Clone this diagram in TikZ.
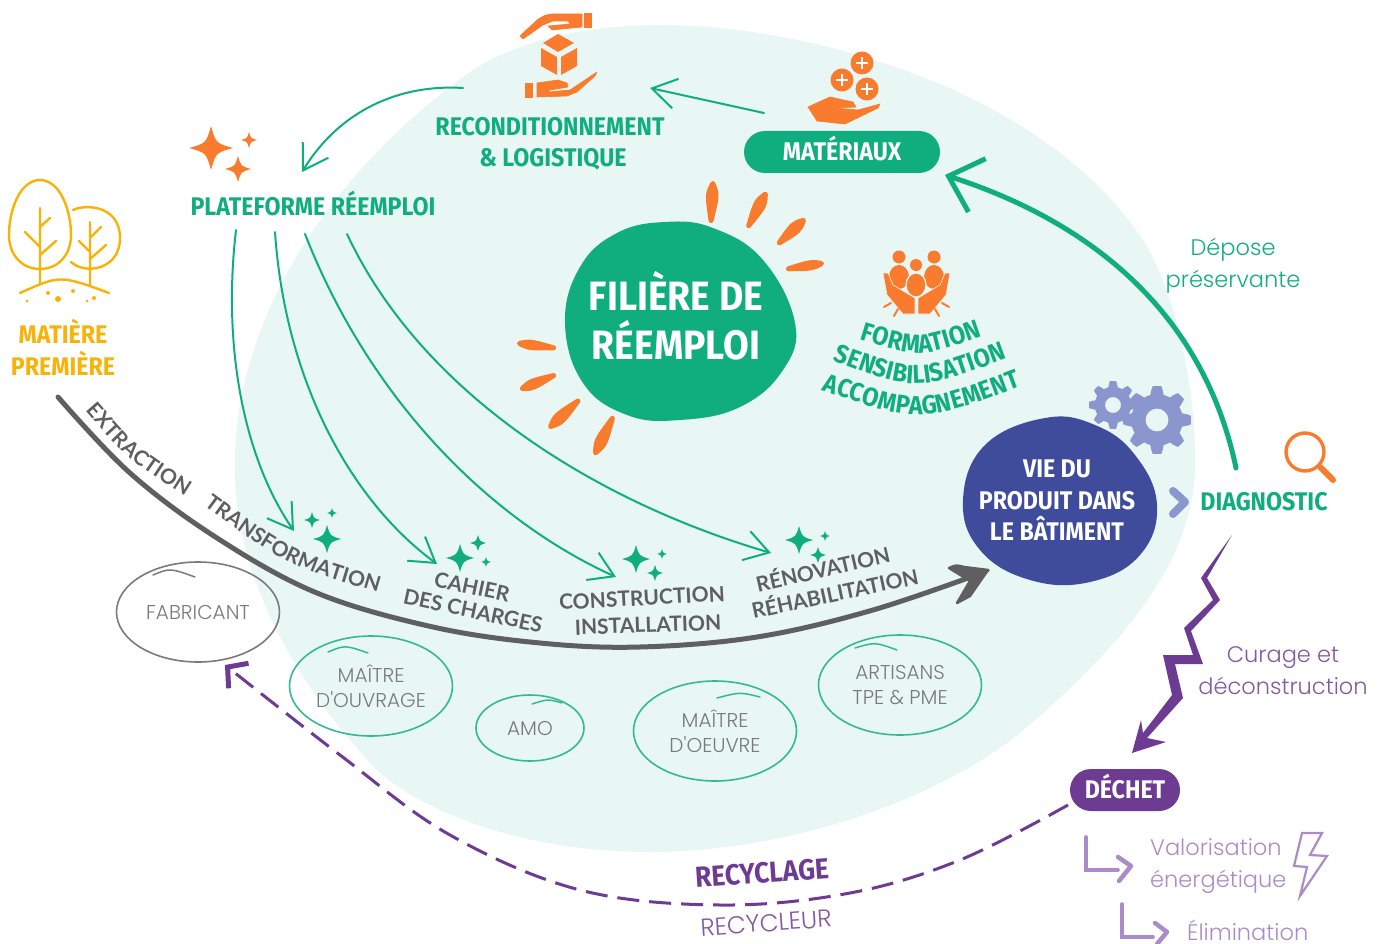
\documentclass[tikz,border=0pt]{standalone}
\usepackage{fontspec}
\setmainfont{Lato}
\newfontfamily\disp[FakeStretch=0.91]{Fira Sans}
\newfontfamily\thinf{Poppins Light}
\newfontfamily\medf{Lato}
\usetikzlibrary{arrows.meta,calc,shapes.geometric,decorations.text}
\definecolor{pale}{HTML}{E8F7F3}
\definecolor{grn}{HTML}{10AE7E}
\definecolor{ora}{HTML}{F97B2D}
\definecolor{yel}{HTML}{F9B208}
\definecolor{pur}{HTML}{6E3B93}
\definecolor{lpur}{HTML}{A98CC8}
\definecolor{blu}{HTML}{3F4C9C}
\definecolor{lblu}{HTML}{8C96CE}
\definecolor{gry}{HTML}{5F5F5F}
\definecolor{lgry}{HTML}{7A7A7A}
\tikzset{
 ttl/.style={font=\disp\bfseries\fontsize{25.5}{28}\selectfont,inner sep=0pt,text height=17.5pt,text depth=0pt},
 bigttl/.style={font=\disp\bfseries\fontsize{41}{46}\selectfont,inner sep=0pt,text height=28.2pt,text depth=0pt},
 thinlbl/.style={font=\thinf\fontsize{22.5}{32}\selectfont,inner sep=0pt,align=center},
 role/.style={font=\thinf\fontsize{20}{25}\selectfont,inner sep=0pt,align=center,text=lgry},
 stage/.style={font=\medf\bfseries\fontsize{21}{24}\selectfont,inner sep=0pt,text=gry,text height=15pt,text depth=0pt},
 bubble/.style={draw,ellipse,line width=1.6pt,inner sep=0pt},
 thinarrow/.style={draw=grn,line width=2pt,line cap=round,-{Straight Barb[length=24pt,width=30pt,line width=2pt]}},
 tail/.style={line width=1.5pt,line cap=round},
 orangeicon/.style={fill=ora,draw=ora,line width=.6pt,line join=round},
}
\newcommand\sparkle[4]{\fill[#1,shift={(#2,#3)},scale=#4] (0,-1) .. controls (.22,-.22) .. (1,0) .. controls (.22,.22) .. (0,1) .. controls (-.22,.22) .. (-1,0) .. controls (-.22,-.22) .. (0,-1) -- cycle;}
\newcommand\ray[5]{\coordinate (wa) at (#1,#2);\coordinate (na) at (#3,#4);
 \coordinate (w) at ($(wa)!3.5pt!(na)$);\coordinate (n) at ($(na)!1.5pt!(wa)$);
 \coordinate (m) at ($(n)!.7!(w)$);
 \coordinate (p) at ($(m)!#5 pt!90:(w)$);\coordinate (q) at ($(m)!#5 pt!-90:(w)$);
 \fill[ora,draw=ora,line width=5pt,line join=round] (n) .. controls (p) .. (w) .. controls (q) .. (n) -- cycle;}
\newcommand\gearshape[5]{\fill[lblu,even odd rule,shift={(#1,#2)}] plot[samples=#5*12+1,domain=0:360,variable=\t] (\t:{#4*(.76+.24*min(1,max(0,.5+1.6*cos(#5*\t))))}) -- cycle (0,0) circle (#3);}
\newcommand\plusc[3]{\fill[ora] (#1,#2) circle (#3);\fill[white] ($(#1,#2)+(-6,-1.3)$) rectangle ($(#1,#2)+(6,1.3)$);\fill[white] ($(#1,#2)+(-1.3,-6)$) rectangle ($(#1,#2)+(1.3,6)$);}
\begin{document}
\begin{tikzpicture}[x=1pt,y=-1pt]
\useasboundingbox (0,0) rectangle (1384,944);
% pale background
\fill[pale] (463,77) .. controls (520,35) and (600,25) .. (663,25) .. controls (800,25) and (1040,85) .. (1143,240) .. controls (1180,300) and (1197,400) .. (1195,473) .. controls (1190,560) and (1130,640) .. (1020,733) .. controls (930,805) and (780,852) .. (650,852) .. controls (520,852) and (420,810) .. (377,770) .. controls (300,690) and (235,580) .. (235,470) .. controls (232,340) and (310,190) .. (463,77) -- cycle;
% centre blob
\fill[grn] plot[smooth cycle,tension=.7] coordinates {(665,222)(713,228)(763,260)(795,323)(783,370)(740,407)(680,420)(627,415)(583,383)(565,323)(580,267)(617,233)};
% gears
\gearshape{1113}{405}{8}{24}{8}
\gearshape{1157}{420}{11.5}{34}{8}
\fill[blu] plot[smooth cycle,tension=.7] coordinates {(1045,418)(1095,425)(1135,455)(1157,505)(1140,555)(1090,582)(1030,580)(980,550)(963,500)(985,445)};
\ray{713}{180}{711}{222}{5}
\ray{767}{191}{748}{227}{5}
\ray{806}{218}{778}{244}{5}
\ray{825}{263}{787}{269}{3.5}
\ray{516}{343}{555}{348}{3.5}
\ray{519}{390}{555}{375}{4}
\ray{548}{429}{579}{400}{5}
\ray{594}{456}{613}{417}{5}
% texts with nodes
\node[bigttl,text=white] (fil1) at (676,296) {FILIÈRE DE};
\node[bigttl,text=white] (fil2) at (676,345) {RÉEMPLOI};
\node[ttl,text=grn] (reco) at (550,127) {RECONDITIONNEMENT};
\node[ttl,text=grn] (log) at (553,158) {\& LOGISTIQUE};
\node[ttl,text=grn] (plat) at (313,207) {PLATEFORME RÉEMPLOI};
\node[ttl,text=yel] (mp1) at (63,335) {MATIÈRE};
\node[ttl,text=yel] (mp2) at (63,367) {PREMIÈRE};
\node[ttl,fill=grn,rounded corners=21pt,minimum width=196pt,minimum height=42pt,text=white] (mat) at (842,152) {MATÉRIAUX};
\node[ttl,fill=pur,rounded corners=21pt,minimum width=110pt,minimum height=42pt,text=white] (dech) at (1125,790) {DÉCHET};
\node[ttl,text=white] (vie1) at (1057,469) {VIE DU};
\node[ttl,text=white] (vie) at (1057,501) {PRODUIT DANS};
\node[ttl,text=white] (vie3) at (1057,532) {LE BÂTIMENT};
\node[ttl,text=grn] (diag) at (1264,502) {DIAGNOSTIC};
\node[thinlbl,text=grn] (dep) at (1233,266) {Dépose\\préservante};
\node[thinlbl,text=pur!85] (cur) at (1283,671) {Curage et\\déconstruction};
\node[thinlbl,text=lpur,align=left,anchor=west] (val) at (1150,866) {Valorisation\\énergétique};
\node[thinlbl,text=lpur,anchor=west,font=\thinf\fontsize{22.5}{30}\selectfont] (eli) at (1187,930) {Élimination};
\node[ttl,text=pur,rotate=4,font=\disp\bfseries\fontsize{29}{30}\selectfont,text height=20pt] (recy) at (762,873) {RECYCLAGE};
\node[thinlbl,text=pur!85,rotate=4,font=\thinf\fontsize{24.5}{27}\selectfont] (recu) at (766,923) {RECYCLEUR};
% stage labels
\node[stage,rotate=-12] (cah1) at (472,587) {CAHIER};
\node[stage,rotate=-12] (cah2) at (473,611) {DES CHARGES};
\node[stage,rotate=3] (con1) at (642,598) {CONSTRUCTION};
\node[stage,rotate=2] (con2) at (648,625) {INSTALLATION};
\node[stage,rotate=13] (ren1) at (823,570) {RÉNOVATION};
\node[stage,rotate=12] (ren2) at (835,594) {RÉHABILITATION};
\path[decorate,decoration={text along path,text align=center,text={|\medf\bfseries\fontsize{21}{24}\selectfont\color{gry}|EXTRACTION}}] (83,408) .. controls (128,460) .. (188,498);
\path[decorate,decoration={text along path,text align=center,text={|\medf\bfseries\fontsize{21}{24}\selectfont\color{gry}|TRANSFORMATION}}] (202,504) .. controls (285,565) .. (380,593);
\path[decorate,decoration={text along path,text align=center,text={|\disp\bfseries\fontsize{26}{28}\selectfont\color{grn}|FORMATION}}] (858,339) .. controls (920,358) .. (984,336);
\path[decorate,decoration={text along path,text align=center,text={|\disp\bfseries\fontsize{26}{28}\selectfont\color{grn}|SENSIBILISATION}}] (829,359) .. controls (915,392) .. (1011,357);
\path[decorate,decoration={text along path,text align=center,text={|\disp\bfseries\fontsize{26}{28}\selectfont\color{grn}|ACCOMPAGNEMENT}}] (816,388) .. controls (920,424) .. (1027,384);
% role bubbles
\node[bubble,draw=lgry,minimum width=163pt,minimum height=100pt,role] (fab) at (198,612) {FABRICANT};
\node[bubble,draw=grn!85,minimum width=163pt,minimum height=100pt,role] (mo) at (371,686) {MAÎTRE\\D'OUVRAGE};
\node[bubble,draw=grn!85,minimum width=108pt,minimum height=66pt,role] (amo) at (530,728) {AMO};
\node[bubble,draw=grn!85,minimum width=163pt,minimum height=100pt,role] (moe) at (715,731) {MAÎTRE\\D'OEUVRE};
\node[bubble,draw=grn!85,minimum width=163pt,minimum height=100pt,role] (art) at (900,685) {ARTISANS\\TPE \& PME};
\draw[tail,lgry] (153,575) .. controls (170,568) .. (195,577);
\draw[tail,grn!85] (328,652) .. controls (345,645) .. (368,653);
\draw[tail,grn!85] (532,704) .. controls (548,699) .. (562,703);
\draw[tail,grn!85] (717,698) .. controls (740,692) .. (760,697);
\draw[tail,grn!85] (855,648) .. controls (875,642) .. (897,650);
% sparkles
\sparkle{ora}{211}{148}{22}\sparkle{ora}{249}{140}{8}\sparkle{ora}{238}{169}{13}
\sparkle{grn}{327}{539}{14}\sparkle{grn}{312}{520}{8}\sparkle{grn}{332}{513}{5}
\sparkle{grn}{460}{558}{14}\sparkle{grn}{478}{543}{8}\sparkle{grn}{486}{562}{5}
\sparkle{grn}{636}{559}{14}\sparkle{grn}{655}{573}{8}\sparkle{grn}{662}{554}{5}
\sparkle{grn}{799}{540}{14}\sparkle{grn}{818}{555}{8}\sparkle{grn}{825}{536}{5}
% connectors
\coordinate (transfo) at (294,531);
\draw[thinarrow] ([shift={(-78,-39)}]mat.center) -- ([shift={(100,-39)}]reco.center);
\draw[thinarrow] ([shift={(-87,-39)}]reco.center) .. controls (400,84) and (340,110) .. ([shift={(-11,-35)}]plat.center);
\draw[thinarrow] ([shift={(-77,23)}]plat.center) .. controls (222,350) and (245,460) .. (transfo);
\draw[thinarrow] ([shift={(-38,25)}]plat.center) .. controls (285,380) and (350,500) .. ([shift={(-35,-23)}]cah1.center);
\draw[thinarrow] ([shift={(-8,27)}]plat.center) .. controls (370,400) and (490,520) .. ([shift={(-26,-21)}]con1.center);
\draw[thinarrow] ([shift={(34,27)}]plat.center) .. controls (420,390) and (590,500) .. ([shift={(-52,-17)}]ren1.center);
\draw[grn,line width=5pt,line cap=round,-{Straight Barb[length=30pt,width=56pt,line width=5pt]}] ([shift={(-28,-34)}]diag.center) .. controls (1205,320) and (1100,225) .. ([shift={(103,23)}]mat.center);
\draw[gry,line width=5pt,line cap=round,-{Stealth[length=12pt,width=12pt]}] plot[smooth,tension=.6] coordinates {([shift={(-5,30)}]mp2.center) (130,473) (217,538) (317,593) (433,627) (540,643) (640,647) (757,637) (873,610) ([shift={(-67,69)}]vie.center)};
\fill[gry,draw=gry,line width=2.5pt,line join=round] (988,570) -- (964,567) .. controls (956,565) .. (949,568) -- (962,576) -- (970,581) -- (957,603) -- (970,596) -- cycle;
\draw[pur,line width=3pt,dash pattern=on 22pt off 10pt,-{Straight Barb[length=14pt,width=32pt,line width=5pt]}] plot[smooth,tension=.6] coordinates {([shift={(-57,15)}]dech.center) (960,860) (850,893) (720,905) (580,890) (450,835) (340,755) ([shift={(27,53)}]fab.center)};
% zigzag
\fill[pur,line join=miter] (1232,535) -- (1207,578) -- (1220,600) -- (1191,631) -- (1203,664) -- (1175,664) -- (1183,698) -- (1147,738) -- (1166,742) -- (1132,753) -- (1141,720) -- (1143,733) -- (1172,695) -- (1163,655) -- (1193,655) -- (1184,628) -- (1213,600) -- (1201,578) -- cycle;
\draw[lblu,line width=8pt,line cap=round,line join=round] (1173,491) -- (1185,502) -- (1173,514);
% icons
\draw[yel,line width=2.4pt] (40,180) .. controls (20,180) and (9,210) .. (9,235) .. controls (9,255) and (22,269) .. (40,269) .. controls (58,269) and (71,255) .. (71,235) .. controls (71,210) and (60,180) .. (40,180) -- cycle;
\draw[yel,line width=2.4pt,line cap=round] (40,208)--(40,283) (25,232)--(40,247) (50,218)--(40,227) (56,241)--(40,255);
\draw[yel,line width=2.4pt,line cap=round] (73,210) .. controls (85,204) and (120,205) .. (120,238) .. controls (120,270) and (85,275) .. (71,262);
\draw[yel,line width=2.4pt,line cap=round] (90,222)--(90,285) (79,241)--(90,252) (101,227)--(90,238) (106,245)--(90,259);
\draw[yel,line width=2.4pt,line cap=round] (20,293) .. controls (60,275) .. (109,293);
\fill[yel] (48,293) circle (2) (73,291) circle (2) (58,299) circle (3) (27,301) circle (1.5) (87,301) circle (1.5) (94,298) circle (2);
% box hand
\fill[ora] (584,13) rectangle (592,28);
\path[orangeicon] (520,36) -- (537,20) .. controls (545,15) .. (552,14) -- (582,14) -- (582,27) -- (552,30) -- (548,26) -- (570,24) -- (568,21) -- (553,21) -- (543,25) -- (523,39) -- cycle;
\fill[ora] (558,34)--(574,43)--(558,52)--(543,43)--cycle (541,48)--(557,57)--(557,75)--(541,66)--cycle (561,57)--(577,48)--(577,66)--(561,75)--cycle;
\fill[ora] (525,83) rectangle (533,98);
\path[orangeicon] (537,83) -- (558,80) -- (567,83) -- (568,87) -- (550,90) -- (548,92) -- (570,90) -- (597,72) -- (595,76) -- (577,92) -- (567,96) -- (537,97) -- cycle;
% materials hand
\plusc{862}{63}{11.5}\plusc{842}{80}{11.5}\plusc{867}{89}{11.5}
\path[orangeicon] (808,107) -- (830,97) -- (853,102) -- (856,107) -- (835,108) -- (858,110) -- (880,104) -- (878,108) -- (845,124) -- (817,121) -- cycle;
% family icon
\fill[ora] (899,257) circle (6.5) (934,257) circle (6.5) (916,265) circle (6);
\fill[ora] (899,277) ellipse (10 and 12) (934,277) ellipse (10 and 12);
\draw[pale,fill=ora,line width=1.2pt] (916,285) ellipse (10 and 12);
\path[orangeicon,draw=pale] (883,273) -- (888,273) -- (893,285) -- (915,298) -- (915,314) -- (903,314) -- (887,295) -- cycle;
\path[orangeicon,draw=pale] (950,273) -- (945,273) -- (940,285) -- (918,298) -- (918,314) -- (930,314) -- (946,295) -- cycle;
\draw[ora,line width=2pt,line cap=round] (884,307)--(891,303) (894,316)--(898,309) (949,307)--(942,303) (939,316)--(935,309);
% magnifier
\draw[ora,line width=3.4pt] (1305,452) circle (19);
\draw[ora,line width=6pt,line cap=round] (1320,467)--(1333,480);
% lightning and sub arrows
\draw[lpur,line width=2.2pt,line join=miter] (1302,833)--(1322,833)--(1310,855)--(1327,856)--(1300,896)--(1307,867)--(1294,866)--cycle;
\draw[lpur,line width=3.6pt,line cap=round,line join=miter] (1086,837)--(1086,870)--(1118,870);
\draw[lpur,line width=4.5pt,line cap=round,line join=round] (1118,857)--(1131,866)--(1119,881);
\draw[lpur,line width=3.6pt,line cap=round,line join=miter] (1122,904)--(1122,937)--(1153,937);
\draw[lpur,line width=4.5pt,line cap=round,line join=round] (1155,923)--(1167,932)--(1157,944);
\end{tikzpicture}
\end{document}
